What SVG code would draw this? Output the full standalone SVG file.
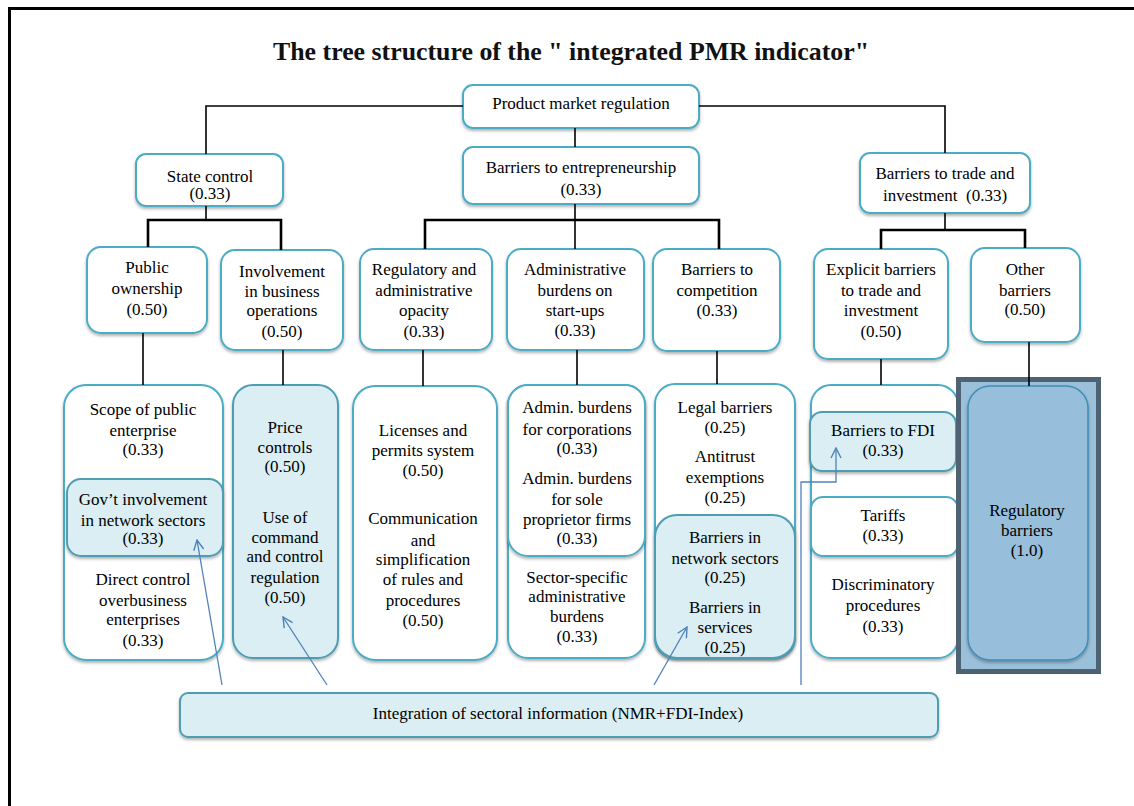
<svg xmlns="http://www.w3.org/2000/svg" width="1134" height="806" viewBox="0 0 1134 806">
  <defs>
    <filter id="shadow" x="-10%" y="-10%" width="120%" height="125%">
      <feDropShadow dx="0" dy="2" stdDeviation="1.5" flood-color="#000" flood-opacity="0.3"/>
    </filter>
    <marker id="open-arrow" viewBox="0 0 12 12" refX="11" refY="6" markerWidth="12" markerHeight="12" markerUnits="userSpaceOnUse" orient="auto">
      <polyline points="1,1 11,6 1,11" fill="none" stroke="#4f81bd" stroke-width="1.4"/>
    </marker>
    <style>
      .box { fill: #ffffff; stroke: #4bacc6; stroke-width: 2; filter: url(#shadow); }
      .blue { fill: #daeef3; stroke: #4f9db3; stroke-width: 2; filter: url(#shadow); }
      .lbl { font-family: "Liberation Serif", "Times New Roman", serif; font-size: 17px; fill: #000; text-anchor: middle; }
      .title { font-family: "Liberation Serif", "Times New Roman", serif; font-size: 25px; font-weight: bold; fill: #111; text-anchor: middle; }
      .tree { fill: none; stroke: #000; stroke-width: 1.6; }
      .bracket { fill: none; stroke: #000; stroke-width: 2.6; }
      .link { fill: none; stroke: #4f81bd; stroke-width: 1.3; }
    </style>
  </defs>

  <rect width="1134" height="806" fill="#ffffff"/>
  <!-- page frame -->
  <path d="M9.5,806 V8.5 H1134" fill="none" stroke="#000" stroke-width="3"/>

  <text class="title" x="571" y="60" textLength="596" lengthAdjust="spacingAndGlyphs">The tree structure of the " integrated PMR indicator"</text>

  <!-- level 0 -->
  <g id="pmr">
    <rect class="box" x="463" y="85" width="236" height="43" rx="10"/>
    <text class="lbl" x="581" y="109">Product market regulation</text>
  </g>

  <!-- level 1 -->
  <g id="state-control">
    <rect class="box" x="136" y="154" width="147" height="52" rx="10"/>
    <text class="lbl" x="210" y="182">State control</text>
    <text class="lbl" x="210" y="199">(0.33)</text>
  </g>
  <g id="entrepreneurship">
    <rect class="box" x="463" y="147" width="236" height="57" rx="10"/>
    <text class="lbl" x="581" y="173">Barriers to entrepreneurship</text>
    <text class="lbl" x="581" y="195">(0.33)</text>
  </g>
  <g id="trade">
    <rect class="box" x="860" y="153" width="170" height="60" rx="10"/>
    <text class="lbl" x="945" y="179">Barriers to trade and</text>
    <text class="lbl" x="945" y="201" xml:space="preserve">investment  (0.33)</text>
  </g>

  <!-- level 2 -->
  <g id="public-ownership">
    <rect class="box" x="87" y="247" width="120" height="86" rx="14"/>
    <text class="lbl" x="147" y="273">Public</text>
    <text class="lbl" x="147" y="294">ownership</text>
    <text class="lbl" x="147" y="315">(0.50)</text>
  </g>
  <g id="involvement">
    <rect class="box" x="221" y="250" width="122" height="100" rx="14"/>
    <text class="lbl" x="282" y="277">Involvement</text>
    <text class="lbl" x="282" y="297">in business</text>
    <text class="lbl" x="282" y="316">operations</text>
    <text class="lbl" x="282" y="337">(0.50)</text>
  </g>
  <g id="opacity">
    <rect class="box" x="360" y="249" width="132" height="101" rx="14"/>
    <text class="lbl" x="424" y="275">Regulatory and</text>
    <text class="lbl" x="424" y="296">administrative</text>
    <text class="lbl" x="424" y="316">opacity</text>
    <text class="lbl" x="424" y="337">(0.33)</text>
  </g>
  <g id="startups">
    <rect class="box" x="507" y="249" width="137" height="101" rx="14"/>
    <text class="lbl" x="575" y="275">Administrative</text>
    <text class="lbl" x="575" y="296">burdens on</text>
    <text class="lbl" x="575" y="316">start-ups</text>
    <text class="lbl" x="575" y="336">(0.33)</text>
  </g>
  <g id="competition">
    <rect class="box" x="653" y="249" width="127" height="102" rx="14"/>
    <text class="lbl" x="717" y="275">Barriers to</text>
    <text class="lbl" x="717" y="296">competition</text>
    <text class="lbl" x="717" y="316">(0.33)</text>
  </g>
  <g id="explicit">
    <rect class="box" x="814" y="249" width="134" height="110" rx="14"/>
    <text class="lbl" x="881" y="275">Explicit barriers</text>
    <text class="lbl" x="881" y="296">to trade and</text>
    <text class="lbl" x="881" y="316">investment</text>
    <text class="lbl" x="881" y="337">(0.50)</text>
  </g>
  <g id="other">
    <rect class="box" x="971" y="248" width="109" height="94" rx="14"/>
    <text class="lbl" x="1025" y="275">Other</text>
    <text class="lbl" x="1025" y="296">barriers</text>
    <text class="lbl" x="1025" y="315">(0.50)</text>
  </g>

  <!-- level 3 -->
  <g id="scope">
    <rect class="box" x="64" y="385" width="159" height="275" rx="22"/>
    <text class="lbl" x="143" y="415">Scope of public</text>
    <text class="lbl" x="143" y="436">enterprise</text>
    <text class="lbl" x="143" y="455">(0.33)</text>
    <rect class="blue" x="67" y="479" width="156" height="77" rx="14"/>
    <text class="lbl" x="143" y="505">Gov’t involvement</text>
    <text class="lbl" x="143" y="526">in network sectors</text>
    <text class="lbl" x="143" y="544">(0.33)</text>
    <text class="lbl" x="143" y="585">Direct control</text>
    <text class="lbl" x="143" y="606">overbusiness</text>
    <text class="lbl" x="143" y="625">enterprises</text>
    <text class="lbl" x="143" y="646">(0.33)</text>
  </g>
  <g id="price">
    <rect class="blue" x="233" y="385" width="105" height="273" rx="20"/>
    <text class="lbl" x="285" y="433">Price</text>
    <text class="lbl" x="285" y="453">controls</text>
    <text class="lbl" x="285" y="472">(0.50)</text>
    <text class="lbl" x="285" y="523">Use of</text>
    <text class="lbl" x="285" y="543">command</text>
    <text class="lbl" x="285" y="562">and control</text>
    <text class="lbl" x="285" y="583">regulation</text>
    <text class="lbl" x="285" y="603">(0.50)</text>
  </g>
  <g id="licenses">
    <rect class="box" x="353" y="386" width="144" height="274" rx="22"/>
    <text class="lbl" x="423" y="436">Licenses and</text>
    <text class="lbl" x="423" y="456">permits system</text>
    <text class="lbl" x="423" y="476">(0.50)</text>
    <text class="lbl" x="423" y="524">Communication</text>
    <text class="lbl" x="423" y="546">and</text>
    <text class="lbl" x="423" y="565">simplification</text>
    <text class="lbl" x="423" y="585">of rules and</text>
    <text class="lbl" x="423" y="606">procedures</text>
    <text class="lbl" x="423" y="626">(0.50)</text>
  </g>
  <g id="admin-burdens">
    <rect class="box" x="508" y="385" width="137" height="273" rx="20"/>
    <rect class="box" x="508" y="385" width="137" height="171" rx="20"/>
    <text class="lbl" x="577" y="413">Admin. burdens</text>
    <text class="lbl" x="577" y="435">for corporations</text>
    <text class="lbl" x="577" y="454">(0.33)</text>
    <text class="lbl" x="577" y="484">Admin. burdens</text>
    <text class="lbl" x="577" y="505">for sole</text>
    <text class="lbl" x="577" y="525">proprietor firms</text>
    <text class="lbl" x="577" y="544">(0.33)</text>
    <text class="lbl" x="577" y="583">Sector-specific</text>
    <text class="lbl" x="577" y="602">administrative</text>
    <text class="lbl" x="577" y="622">burdens</text>
    <text class="lbl" x="577" y="642">(0.33)</text>
  </g>
  <g id="competition-items">
    <rect class="box" x="655" y="384" width="140" height="274" rx="20"/>
    <text class="lbl" x="725" y="413">Legal barriers</text>
    <text class="lbl" x="725" y="433">(0.25)</text>
    <text class="lbl" x="725" y="462">Antitrust</text>
    <text class="lbl" x="725" y="483">exemptions</text>
    <text class="lbl" x="725" y="503">(0.25)</text>
    <rect class="blue" x="655" y="515" width="140" height="143" rx="22"/>
    <text class="lbl" x="725" y="543">Barriers in</text>
    <text class="lbl" x="725" y="564">network sectors</text>
    <text class="lbl" x="725" y="583">(0.25)</text>
    <text class="lbl" x="725" y="613">Barriers in</text>
    <text class="lbl" x="725" y="633">services</text>
    <text class="lbl" x="725" y="653">(0.25)</text>
  </g>
  <g id="explicit-items">
    <rect class="box" x="811" y="385" width="147" height="273" rx="20"/>
    <rect class="blue" x="810" y="412" width="146" height="59" rx="12"/>
    <text class="lbl" x="883" y="436">Barriers to FDI</text>
    <text class="lbl" x="883" y="456">(0.33)</text>
    <rect class="box" x="811" y="497" width="147" height="59" rx="12"/>
    <text class="lbl" x="883" y="521">Tariffs</text>
    <text class="lbl" x="883" y="541">(0.33)</text>
    <text class="lbl" x="883" y="590">Discriminatory</text>
    <text class="lbl" x="883" y="611">procedures</text>
    <text class="lbl" x="883" y="632">(0.33)</text>
  </g>
  <g id="regulatory-barriers">
    <rect x="958.5" y="379.5" width="140" height="292" fill="#9bc0da" stroke="#4d6272" stroke-width="5"/>
    <rect x="968" y="386" width="120" height="274" rx="22" fill="#97bedb" stroke="#3f8db5" stroke-width="1.5" filter="url(#shadow)"/>
    <text class="lbl" x="1027" y="516">Regulatory</text>
    <text class="lbl" x="1027" y="536">barriers</text>
    <text class="lbl" x="1027" y="556">(1.0)</text>
  </g>

  <g id="integration">
    <rect class="blue" x="180" y="693" width="758" height="44" rx="8"/>
    <text class="lbl" x="558" y="719">Integration of sectoral information (NMR+FDI-Index)</text>
  </g>

  <!-- tree connectors and sectoral information links -->
  <g id="connectors">
    <path class="tree" d="M463,106 H206 V154"/>
    <path class="tree" d="M699,106 H945 V153"/>
    <path class="tree" d="M575,128 V147"/>
    <path class="tree" d="M206,206 V220"/>
    <path class="bracket" d="M148,247 V220 H281 V250"/>
    <path class="tree" d="M575,204 V249"/>
    <path class="bracket" d="M425,249 V220 H719 V249"/>
    <path class="tree" d="M945,213 V230"/>
    <path class="bracket" d="M881,249 V230 H1025 V248"/>
    <path class="tree" d="M143,333 V385"/>
    <path class="tree" d="M283,350 V385"/>
    <path class="tree" d="M423,350 V386"/>
    <path class="tree" d="M577,350 V385"/>
    <path class="tree" d="M717,351 V384"/>
    <path class="tree" d="M881,359 V385"/>
    <path class="tree" d="M1029,342 V386"/>
    <path class="link" d="M222,685 L197,540" marker-end="url(#open-arrow)"/>
    <path class="link" d="M327,685 L283,617" marker-end="url(#open-arrow)"/>
    <path class="link" d="M654,685 L687,627" marker-end="url(#open-arrow)"/>
    <path class="link" d="M801,685 V482 H836 V448" marker-end="url(#open-arrow)"/>
  </g>
</svg>
